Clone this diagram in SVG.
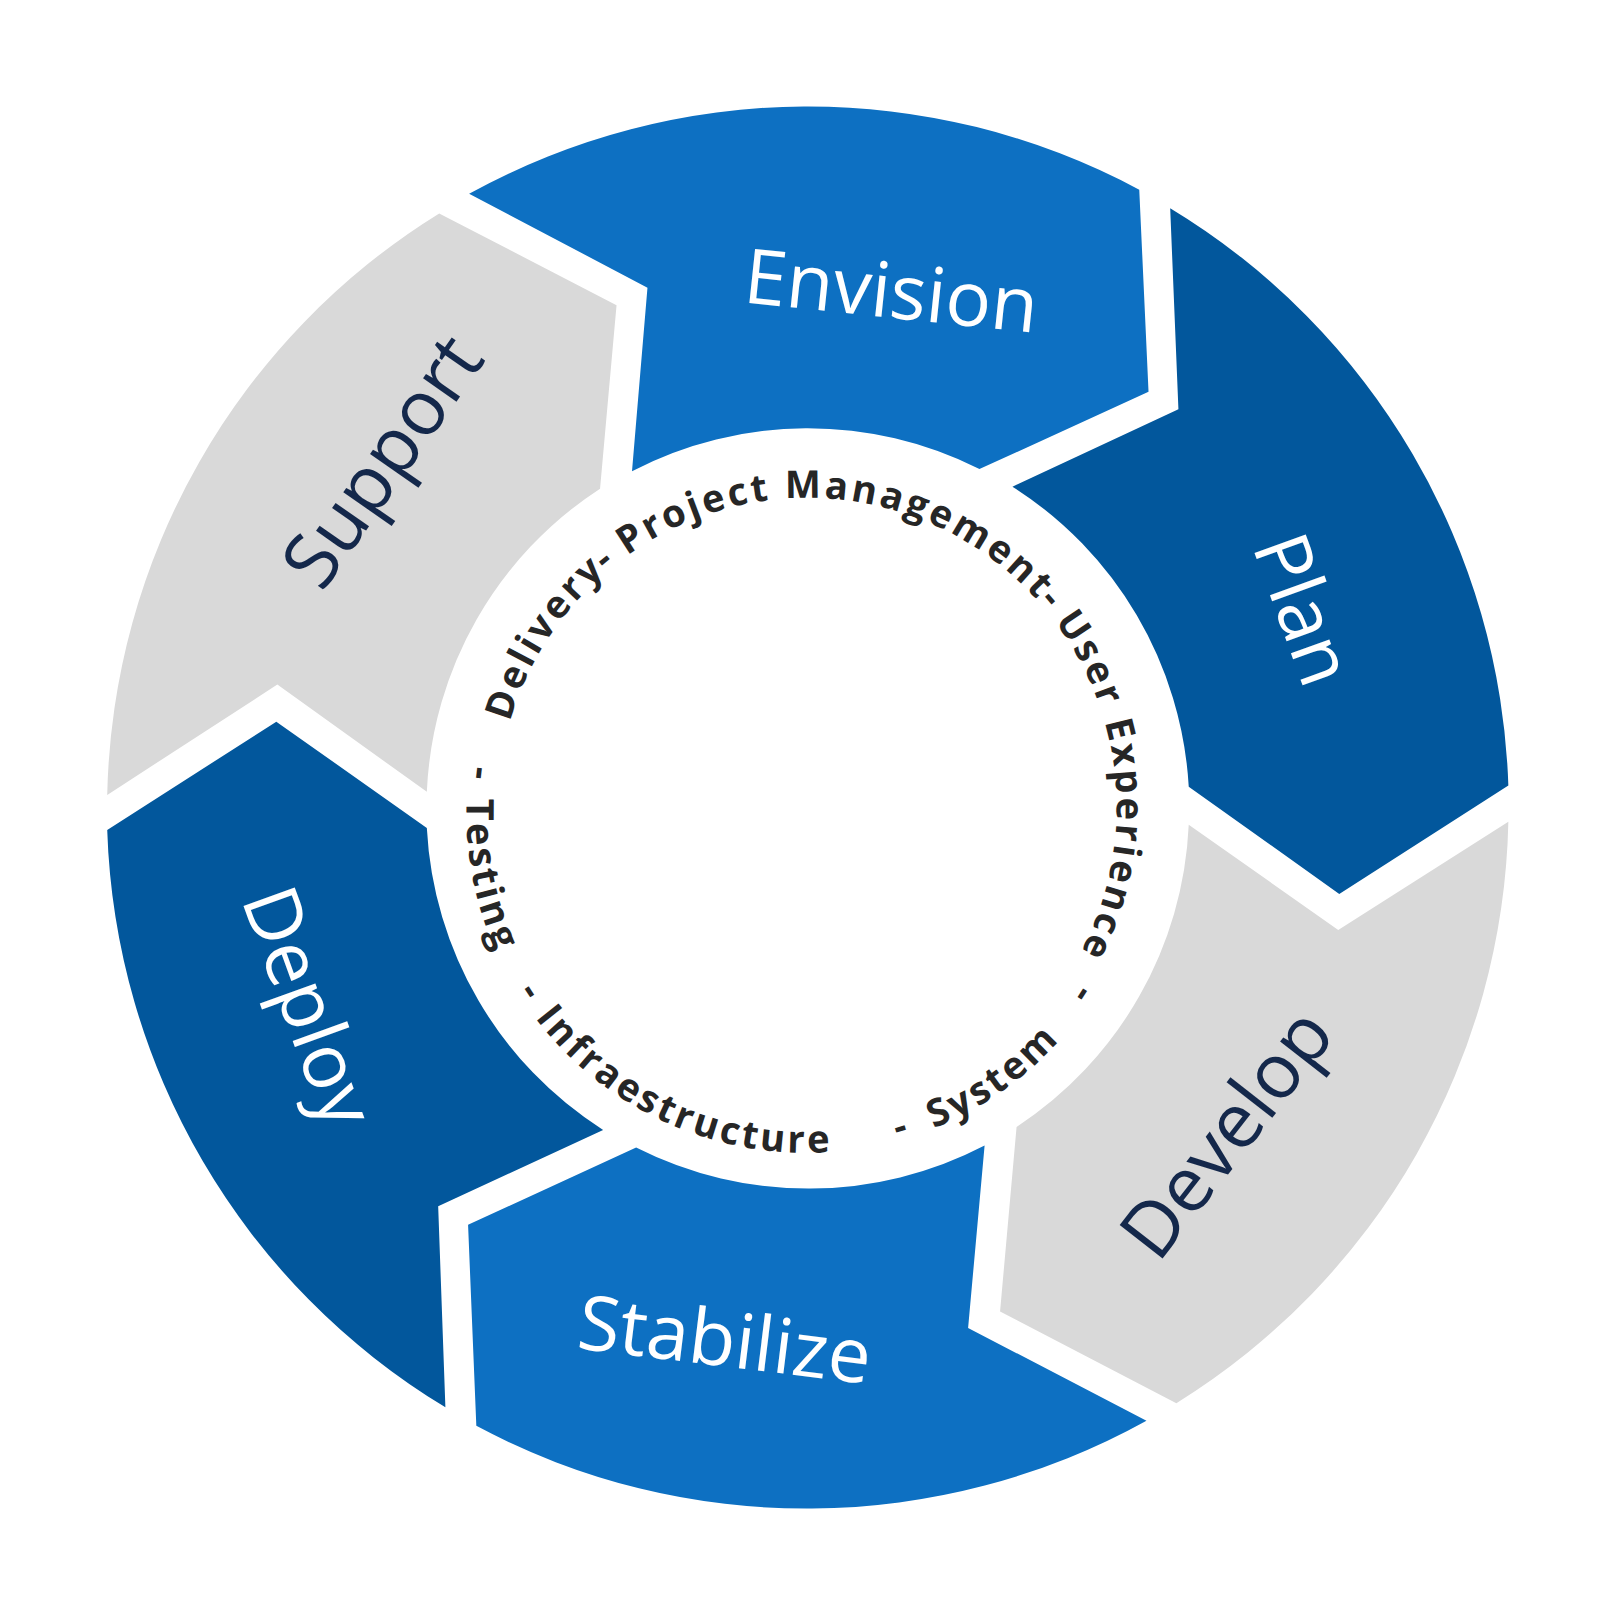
<svg xmlns="http://www.w3.org/2000/svg" width="1620" height="1620" viewBox="0 0 1620 1620">
<style>
.lt{fill:#0D70C2}.dk{fill:#02579C}.gr{fill:#D9D9D9}
.lbl{font-family:"Open Sans","Liberation Sans",sans-serif;font-size:74px;text-anchor:middle}
.w{fill:#fff}.n{fill:#14284B}
.ring{font-family:"Open Sans","Liberation Sans",sans-serif;font-size:37px;font-weight:700;fill:#262626;letter-spacing:3px}
</style>
<defs>
<path id="up" d="M494.6,700.3 A300,300 0 1 1 1071.4,865.7 A300,300 0 1 1 494.6,700.3"/>
<path id="lo" d="M455.5,742.8 A330,330 0 1 0 1110.5,823.2 A330,330 0 1 0 455.5,742.8"/>
</defs>
<rect width="1620" height="1620" fill="#fff"/>
<g transform="scale(1.031)">
<g id="envision"><path class="lt" d="M455,188 A680,680 0 0 1 1105,184 L1114,380 L950,455 A370,370 0 0 0 613,457 L628,279 Z"/><text class="lbl w" transform="translate(862,308) rotate(6)">Envision</text></g>
<g id="plan"><path class="dk" d="M1135,202 A680,680 0 0 1 1463,762 L1299,867 L1153,763 A370,370 0 0 0 982,472 L1143,397 Z"/><text class="lbl w" transform="translate(1240,600) rotate(70)">Plan</text></g>
<g id="develop"><path class="gr" d="M1463,797 A680,680 0 0 1 1141,1361 L970,1272 L986,1093 A370,370 0 0 0 1153,800 L1298,902 Z"/><text class="lbl n" transform="translate(1210,1115) rotate(-52)">Develop</text></g>
<g id="stabilize"><path class="lt" d="M1112,1378 A680,680 0 0 1 462,1383 L454,1188 L617,1113 A370,370 0 0 0 955,1111 L939,1288 Z"/><text class="lbl w" transform="translate(700,1325) rotate(7)">Stabilize</text></g>
<g id="deploy"><path class="dk" d="M432,1365 A680,680 0 0 1 104,805 L268,700 L414,803 A370,370 0 0 0 585,1096 L425,1170 Z"/><text class="lbl w" transform="translate(275,985) rotate(70)">Deploy</text></g>
<g id="support"><path class="gr" d="M104,771 A680,680 0 0 1 426,207 L598,296 L582,474 A370,370 0 0 0 414,768 L269,664 Z"/><text class="lbl n" transform="translate(392,462) rotate(-55)">Support</text></g>
<g id="ring">
<text class="ring"><textPath href="#up" startOffset="0">Delivery</textPath></text>
<text class="ring"><textPath href="#up" startOffset="175">-</textPath></text>
<text class="ring"><textPath href="#up" startOffset="201">Project Management</textPath></text>
<text class="ring"><textPath href="#up" startOffset="640">-</textPath></text>
<text class="ring"><textPath href="#up" startOffset="665">User Experience</textPath></text>
<text class="ring"><textPath href="#lo" startOffset="0">-</textPath></text>
<text class="ring"><textPath href="#lo" startOffset="32">Testing</textPath></text>
<text class="ring"><textPath href="#lo" startOffset="229">-</textPath></text>
<text class="ring"><textPath href="#lo" startOffset="259">Infraestructure</textPath></text>
<text class="ring"><textPath href="#lo" startOffset="653">-</textPath></text>
<text class="ring"><textPath href="#lo" startOffset="690">System</textPath></text>
<text class="ring"><textPath href="#lo" startOffset="884">-</textPath></text>
</g>
</g>
</svg>
